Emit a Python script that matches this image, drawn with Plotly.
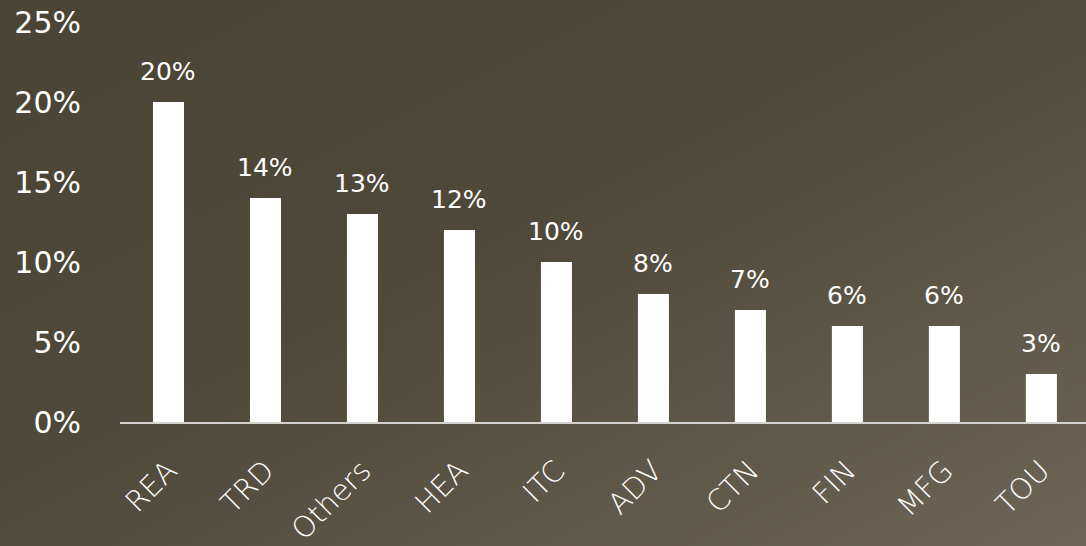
import urllib.parse
import plotly.graph_objects as go

# Share of entries by sector
sectors = ["REA", "TRD", "Others", "HEA", "ITC", "ADV", "CTN", "FIN", "MFG", "TOU"]
shares = [20, 14, 13, 12, 10, 8, 7, 6, 6, 3]
y_ticks = [0, 5, 10, 15, 20, 25]
y_tick_labels = [f"{v}%" for v in y_ticks]

FONT = "DejaVu Sans"
WHITE = "#ffffff"

# Soft brown backdrop drawn as an SVG gradient
svg = (
    "<svg xmlns='http://www.w3.org/2000/svg' width='1086' height='546'>"
    "<defs><linearGradient id='g' x1='0' y1='0' x2='1' y2='1'>"
    "<stop offset='0' stop-color='#4a4434'/>"
    "<stop offset='0.45' stop-color='#4f4939'/>"
    "<stop offset='1' stop-color='#6d6656'/>"
    "</linearGradient></defs>"
    "<rect width='1086' height='546' fill='url(#g)'/></svg>"
)
bg_src = "data:image/svg+xml;charset=utf-8," + urllib.parse.quote(svg)

fig = go.Figure(
    go.Bar(
        x=sectors,
        y=shares,
        marker=dict(color=WHITE, line=dict(width=0)),
        width=0.32,
        hoverinfo="skip",
    )
)

for s, v in zip(sectors, shares):
    fig.add_annotation(
        x=s, y=v, text=f"{v}%", showarrow=False,
        yanchor="bottom", yshift=14,
        font=dict(family=FONT, size=25, color=WHITE),
    )

fig.add_layout_image(
    source=bg_src, xref="paper", yref="paper",
    x=-120 / 966, y=1 + 22 / 400,
    sizex=1086 / 966, sizey=546 / 400,
    xanchor="left", yanchor="top", sizing="stretch", layer="below",
)

fig.update_layout(
    width=1086,
    height=546,
    margin=dict(l=120, r=0, t=22, b=124, autoexpand=False),
    paper_bgcolor="#4f4939",
    plot_bgcolor="rgba(0,0,0,0)",
    showlegend=False,
    xaxis=dict(
        range=[-0.5, 9.46],
        automargin=False,
        showgrid=False,
        showline=True,
        linecolor="#d4d2cc",
        linewidth=2,
        ticks="",
        tickangle=-45,
        ticklabelstandoff=18,
        tickfont=dict(family=FONT, size=29, color=WHITE, weight=200),
    ),
    yaxis=dict(
        range=[0, 25],
        automargin=False,
        tickvals=y_ticks,
        ticktext=y_tick_labels,
        showgrid=False,
        zeroline=False,
        showline=False,
        ticks="",
        ticklabelstandoff=38,
        tickfont=dict(family=FONT, size=30, color=WHITE),
    ),
)

fig.write_html("out.html")
